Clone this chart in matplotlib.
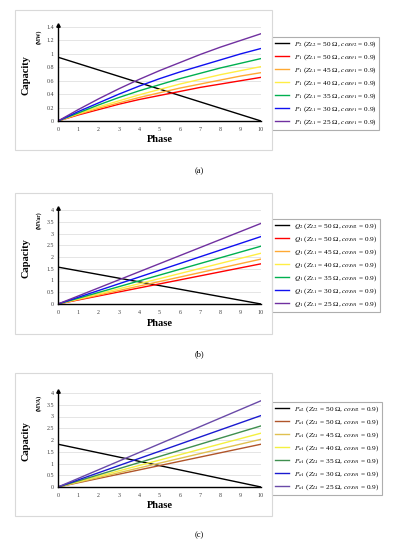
import matplotlib
matplotlib.use("Agg")
import matplotlib.pyplot as plt
import matplotlib.patches as patches

plt.rcParams['font.family'] = ['Liberation Serif', 'DejaVu Serif']
plt.rcParams['mathtext.fontset'] = 'stix'

W, H = 399, 550

# phase axis
phase = [0, 1, 2, 3, 4, 5, 6, 7, 8, 9, 10]
phase_ends = [0, 10]

# (a) active power, MW
p2 = [0.95, 0]
p1_50 = [0, 0.09, 0.17, 0.25, 0.32, 0.38, 0.44, 0.50, 0.55, 0.60, 0.65]
p1_45 = [0, 0.10, 0.19, 0.27, 0.35, 0.42, 0.49, 0.55, 0.61, 0.67, 0.72]
p1_40 = [0, 0.11, 0.21, 0.30, 0.39, 0.47, 0.55, 0.62, 0.69, 0.75, 0.81]
p1_35 = [0, 0.12, 0.24, 0.35, 0.45, 0.54, 0.63, 0.71, 0.79, 0.86, 0.93]
p1_30 = [0, 0.14, 0.27, 0.40, 0.52, 0.63, 0.73, 0.82, 0.91, 1.00, 1.08]
p1_25 = [0, 0.17, 0.33, 0.48, 0.62, 0.75, 0.87, 0.99, 1.10, 1.20, 1.30]

# (b) reactive power, MVar
q2 = [1.57, 0]
q1_50 = [0, 1.71]
q1_45 = [0, 1.91]
q1_40 = [0, 2.16]
q1_35 = [0, 2.46]
q1_30 = [0, 2.87]
q1_25 = [0, 3.43]

# (c) apparent power, MVA
pa2 = [1.82, 0]
pa1_50 = [0, 1.82]
pa1_45 = [0, 2.03]
pa1_40 = [0, 2.29]
pa1_35 = [0, 2.60]
pa1_30 = [0, 3.04]
pa1_25 = [0, 3.67]

z_vals = [50, 45, 40, 35, 30, 25]
cols_ab = ['#000000', '#ff0000', '#ffa933', '#ffee44', '#00b050', '#1010f0', '#7030a0']
cols_c = ['#000000', '#b0552a', '#e0c050', '#f4f040', '#3f8f4f', '#1a1ad0', '#6a4aa8']

panels = [
    dict(lines=[(phase_ends, p2), (phase, p1_50), (phase, p1_45), (phase, p1_40),
                (phase, p1_35), (phase, p1_30), (phase, p1_25)],
         sym='P', sub2='2', sub1='1', unit='(MW)', ymax=1.4, ystep=0.2,
         cols=cols_ab, y0=121, ytop=27, box=(10, 150), leg=37, cap='(a)', capy=171),
    dict(lines=[(phase_ends, q2), (phase_ends, q1_50), (phase_ends, q1_45), (phase_ends, q1_40),
                (phase_ends, q1_35), (phase_ends, q1_30), (phase_ends, q1_25)],
         sym='Q', sub2='2', sub1='1', unit='(MVar)', ymax=4, ystep=0.5,
         cols=cols_ab, y0=304, ytop=210, box=(193, 334), leg=219, cap='(b)', capy=354),
    dict(lines=[(phase_ends, pa2), (phase_ends, pa1_50), (phase_ends, pa1_45), (phase_ends, pa1_40),
                (phase_ends, pa1_35), (phase_ends, pa1_30), (phase_ends, pa1_25)],
         sym='P', sub2='a2', sub1='a1', unit='(MVA)', ymax=4, ystep=0.5,
         cols=cols_c, y0=487, ytop=393, box=(373, 516), leg=402, cap='(c)', capy=535),
]

fig = plt.figure(figsize=(W / 100, H / 100), dpi=100)

x_left, x_right = 58, 261

for pn in panels:
    # panel frame
    top, bot = pn['box']
    fig.add_artist(patches.Rectangle((15 / W, 1 - bot / H), (272 - 15) / W, (bot - top) / H,
                                     transform=fig.transFigure, fill=False,
                                     edgecolor='#d9d9d9', lw=0.8))

    ax = fig.add_axes([x_left / W, 1 - pn['y0'] / H, (x_right - x_left) / W,
                       (pn['y0'] - pn['ytop']) / H])
    labels = [r'$%s_{%s}$ ($Z_{L2}$ = 50 Ω, $cos_{\theta 2}$ = 0.9)' % (pn['sym'], pn['sub2'])]
    for z in z_vals:
        labels.append(r'$%s_{%s}$ ($Z_{L1}$ = %d Ω, $cos_{\theta 1}$ = 0.9)' % (pn['sym'], pn['sub1'], z))
    for (xs, ys), c, lab in zip(pn['lines'], pn['cols'], labels):
        ax.plot(xs, ys, color=c, lw=1.0, label=lab)

    ax.set_xlim(0, 10)
    ax.set_ylim(0, pn['ymax'])
    ax.set_xticks(range(0, 11))
    n = int(round(pn['ymax'] / pn['ystep']))
    yt = [round(i * pn['ystep'], 2) for i in range(n + 1)]
    ax.set_yticks(yt)
    ax.set_yticklabels(['%g' % v for v in yt])
    ax.grid(axis='y', color='#e0e0e0', lw=0.6)
    ax.set_axisbelow(True)
    for s in ['top', 'right']:
        ax.spines[s].set_visible(False)
    ax.spines['left'].set_linewidth(1.0)
    ax.spines['bottom'].set_linewidth(1.0)
    ax.tick_params(length=0, labelsize=4.3, colors='#404040')
    ax.tick_params(axis='x', pad=4.5)
    ax.tick_params(axis='y', pad=3)
    ax.plot(0, 1.02, marker='^', ms=2.5, color='k', transform=ax.transAxes, clip_on=False)

    yc = (pn['y0'] + pn['ytop']) / 2
    fig.text(26 / W, 1 - (yc + 1) / H, 'Capacity', rotation=90, ha='center', va='center',
             fontsize=7.5, fontweight='bold')
    fig.text(39 / W, 1 - (pn['ytop'] + 10) / H, pn['unit'], rotation=90, ha='center', va='center',
             fontsize=4, fontweight='bold')
    fig.text(160 / W, 1 - (pn['y0'] + 19) / H, 'Phase', ha='center', va='center',
             fontsize=7.5, fontweight='bold')
    fig.text(199 / W, 1 - pn['capy'] / H, pn['cap'], ha='center', va='center', fontsize=6)

    leg = ax.legend(loc='upper left', bbox_to_anchor=(272 / W, 1 - pn['leg'] / H),
                    bbox_transform=fig.transFigure, fontsize=5.2, frameon=True, fancybox=False,
                    edgecolor='#9a9a9a', borderaxespad=0, handlelength=2.0, labelspacing=0.45,
                    borderpad=0.35, handletextpad=0.7)
    leg.get_frame().set_linewidth(0.8)

fig.savefig('out.png', dpi=100)
